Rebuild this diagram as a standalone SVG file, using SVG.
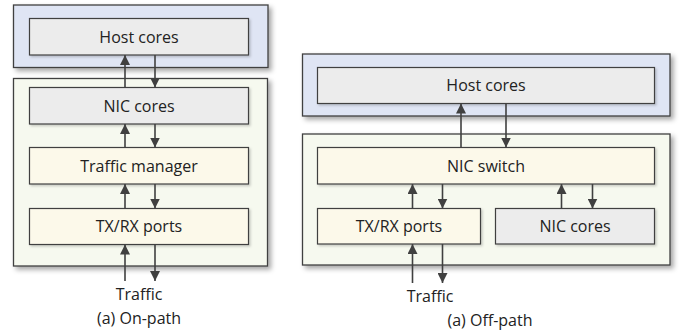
<svg xmlns="http://www.w3.org/2000/svg" width="683" height="334" viewBox="0 0 683 334">
<defs>
<filter id="sh" x="-10%" y="-20%" width="125%" height="150%">
<feDropShadow dx="3" dy="3" stdDeviation="2.5" flood-color="#000" flood-opacity="0.35"/>
</filter>
<filter id="sh2" x="-10%" y="-20%" width="125%" height="150%">
<feDropShadow dx="1.5" dy="1.5" stdDeviation="1.2" flood-color="#000" flood-opacity="0.2"/>
</filter>
<marker id="ah" viewBox="0 0 10 10" refX="10" refY="5" markerWidth="10" markerHeight="10" markerUnits="userSpaceOnUse" orient="auto">
<path d="M0,0 L10,5 L0,10 z" fill="#404040"/>
</marker>
</defs>
<style>
.host{fill:#dfe5f4;stroke:#404040;stroke-width:1.3}
.nic{fill:#f6f9ef;stroke:#404040;stroke-width:1.3}
.grey{fill:#ececec;stroke:#404040;stroke-width:1.2}
.yel{fill:#fcf9ea;stroke:#404040;stroke-width:1.2}
text{font-family:"Open Sans","Liberation Sans",sans-serif;font-size:16px;fill:#222;text-anchor:middle}
.c line{stroke:#404040;stroke-width:1.6;marker-end:url(#ah)}
</style>
<rect width="683" height="334" fill="#fff"/>

<g id="left-host-domain"><rect class="host" x="13.5" y="5" width="254.5" height="62.5" filter="url(#sh)"/></g>
<g id="left-nic-domain"><rect class="nic" x="13.5" y="78.5" width="254" height="187.5" filter="url(#sh)"/></g>
<g id="left-host-cores"><rect class="grey" x="29.5" y="18.5" width="219" height="36.5" filter="url(#sh2)"/><text x="139" y="42.5">Host cores</text></g>
<g id="left-nic-cores"><rect class="grey" x="29.5" y="87.5" width="219" height="36.5" filter="url(#sh2)"/><text x="139" y="111.5">NIC cores</text></g>
<g id="left-traffic-manager"><rect class="yel" x="29.5" y="147.5" width="219" height="36.5" filter="url(#sh2)"/><text x="139" y="171.5">Traffic manager</text></g>
<g id="left-txrx"><rect class="yel" x="29.5" y="208.5" width="219" height="36" filter="url(#sh2)"/><text x="139" y="232">TX/RX ports</text></g>
<g id="left-labels"><text x="139" y="300">Traffic</text><text x="139" y="323.5">(a) On-path</text></g>

<g id="right-host-domain"><rect class="host" x="302.5" y="54" width="367.5" height="62" filter="url(#sh)"/></g>
<g id="right-nic-domain"><rect class="nic" x="302.5" y="134" width="367.5" height="131" filter="url(#sh)"/></g>
<g id="right-host-cores"><rect class="grey" x="317.5" y="67.5" width="337" height="36" filter="url(#sh2)"/><text x="486" y="91">Host cores</text></g>
<g id="right-nic-switch"><rect class="yel" x="317.5" y="147.5" width="337" height="36.5" filter="url(#sh2)"/><text x="486" y="171.5">NIC switch</text></g>
<g id="right-txrx"><rect class="yel" x="317.5" y="208.5" width="163" height="35.5" filter="url(#sh2)"/><text x="399" y="232">TX/RX ports</text></g>
<g id="right-nic-cores"><rect class="grey" x="495.5" y="208.5" width="159" height="35.5" filter="url(#sh2)"/><text x="575" y="232">NIC cores</text></g>
<g id="right-labels"><text x="430" y="302">Traffic</text><text x="490" y="325.5">(a) Off-path</text></g>

<g id="connectors" class="c">
<line x1="125" y1="87.5" x2="125" y2="55"/>
<line x1="155" y1="55" x2="155" y2="87.5"/>
<line x1="125" y1="147.5" x2="125" y2="124"/>
<line x1="155" y1="124" x2="155" y2="147.5"/>
<line x1="125" y1="208.5" x2="125" y2="184"/>
<line x1="155" y1="184" x2="155" y2="208.5"/>
<line x1="125" y1="281" x2="125" y2="244.5"/>
<line x1="155" y1="244.5" x2="155" y2="281"/>

<line x1="461" y1="147.5" x2="461" y2="103.5"/>
<line x1="506" y1="103.5" x2="506" y2="147.5"/>
<line x1="412.5" y1="208.5" x2="412.5" y2="184"/>
<line x1="442.5" y1="184" x2="442.5" y2="208.5"/>
<line x1="561.5" y1="208.5" x2="561.5" y2="184"/>
<line x1="592.5" y1="184" x2="592.5" y2="208.5"/>
<line x1="412.5" y1="283" x2="412.5" y2="244"/>
<line x1="442.5" y1="244" x2="442.5" y2="283"/>
</g>
</svg>
